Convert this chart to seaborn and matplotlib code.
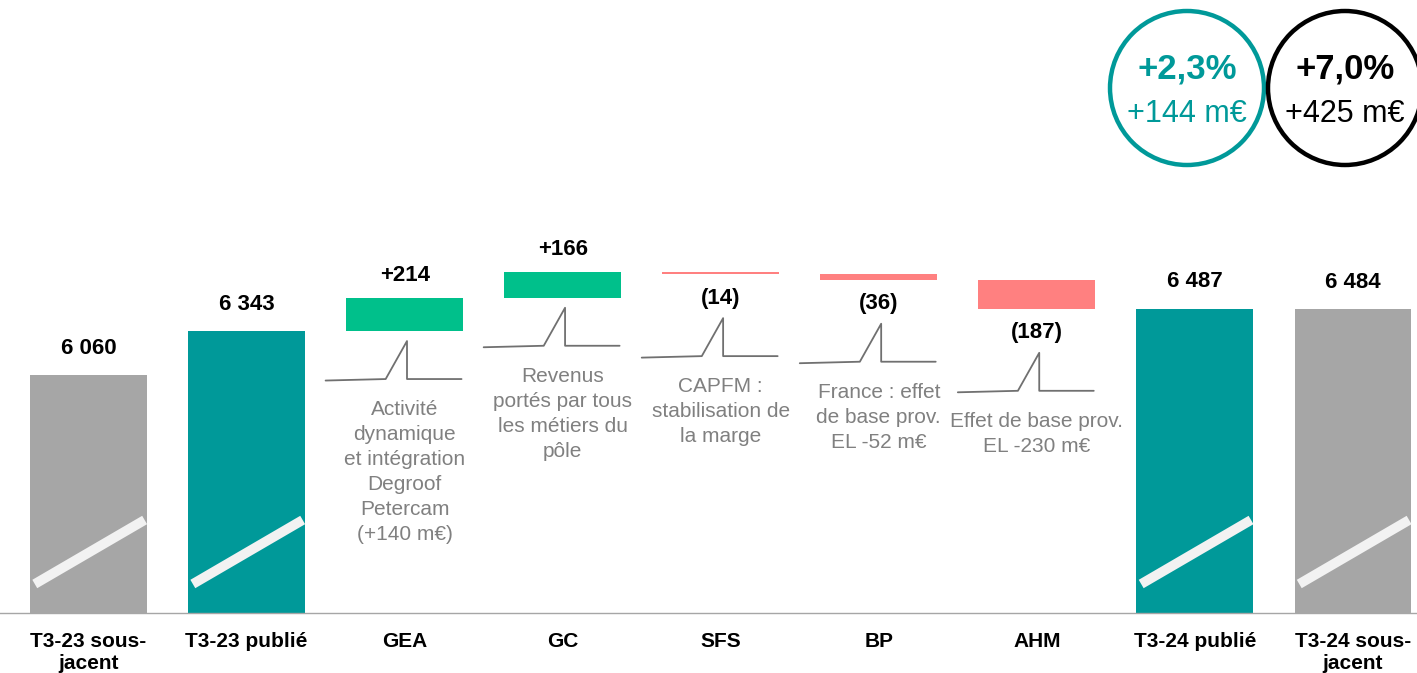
import matplotlib
matplotlib.use("Agg")
import matplotlib.pyplot as plt
import matplotlib.patches as mpatches
import numpy as np
import pandas as pd
import seaborn as sns

# données du graphique (m€)
categories = ["T3-23 sous-\njacent", "T3-23 publié", "GEA", "GC", "SFS", "BP", "AHM",
              "T3-24 publié", "T3-24 sous-\njacent"]
values = [6060, 6343, 214, 166, -14, -36, -187, 6487, 6484]
is_total = [True, True, False, False, False, False, False, True, True]
value_labels = ["6 060", "6 343", "+214", "+166", "(14)", "(36)", "(187)", "6 487", "6 484"]
descriptions = ["", "",
                "Activité\ndynamique\net intégration\nDegroof\nPetercam\n(+140 m€)",
                "Revenus\nportés par tous\nles métiers du\npôle",
                "CAPFM :\nstabilisation de\nla marge",
                "France : effet\nde base prov.\nEL -52 m€",
                "Effet de base prov.\nEL -230 m€",
                "", ""]
circle_pct = ["+2,3%", "+7,0%"]
circle_abs = ["+144 m€", "+425 m€"]

GRAY = "#a6a6a6"
TEAL = "#009999"
GREEN = "#00c08b"
RED = "#ff8080"

# %%
# bas et hauteur de chaque barre (cascade)
bottoms, heights, colors = [], [], []
running = 0
for i, (v, t) in enumerate(zip(values, is_total)):
    if t:
        bottoms.append(0)
        heights.append(v)
        running = v
        colors.append(GRAY if i in (0, len(values) - 1) else TEAL)
    else:
        bottoms.append(running if v >= 0 else running + v)
        heights.append(abs(v))
        running += v
        colors.append(GREEN if v >= 0 else RED)

df = pd.DataFrame({"cat": categories, "height": heights, "bottom": bottoms})

sns.set_style("white")
plt.rcParams["font.family"] = ["Liberation Sans", "DejaVu Sans"]

W, H = 1417, 673
fig = plt.figure(figsize=(W / 100, H / 100), dpi=100)
base_px = 613
ax = fig.add_axes([0, (H - base_px) / H, 1, base_px / H])

sns.barplot(data=df, x="cat", y="height", hue="cat", palette=colors, width=0.74,
            saturation=1, legend=False, ax=ax, linewidth=0)
for patch, b in zip(ax.patches, bottoms):
    patch.set_y(b)

ymin = 4530
ypp = 6.43  # m€ par pixel

# axe
for s in ["left", "top", "right"]:
    ax.spines[s].set_visible(False)
ax.spines["bottom"].set_color(GRAY)
ax.spines["bottom"].set_linewidth(1)
ax.set_yticks([])
ax.set_ylabel("")
ax.set_xlabel("")
ax.set_xticks(range(len(categories)))
ax.set_xticklabels(categories, fontweight="bold", fontsize=15, linespacing=1.15,
                   color="black")
ax.tick_params(axis="x", which="major", length=0, pad=14)
ax.set_xticks(np.arange(-0.5, len(categories), 1), minor=True)
ax.tick_params(axis="x", which="minor", length=5, color=GRAY, width=1)
ax.set_ylim(ymin, ymin + base_px * ypp)
ax.set_xlim(-0.56, 8.405)

# étiquettes de valeurs
for i, (lab, v, b, h, t) in enumerate(zip(value_labels, values, bottoms, heights, is_total)):
    if t or v >= 0:
        y = b + h + (27 if t else 22) * ypp
    else:
        y = b - 24 * ypp
    ax.text(i, y, lab, ha="center", va="center", fontweight="bold", fontsize=16, color="black")

# marques de coupure sur les barres de total
for i, t in enumerate(is_total):
    if t:
        ax.plot([i - 0.34, i + 0.355], [ymin + 29 * ypp, ymin + 93 * ypp],
                color="#f2f2f2", lw=7, solid_capstyle="butt", zorder=5)

# renvois et commentaires
for i, (desc, v, b) in enumerate(zip(descriptions, values, bottoms)):
    if not desc:
        continue
    peak = b - (10 if v >= 0 else 44) * ypp
    base = peak - 38 * ypp
    xs = [i - 0.5, i - 0.12, i + 0.015, i + 0.015, i + 0.36]
    ys = [base - 1.5 * ypp, base, peak, base, base]
    ax.plot(xs, ys, color="#707070", lw=1.3, zorder=3)
    ax.text(i, base - 21 * ypp, desc, ha="center", va="top", fontsize=15,
            color="#808080", linespacing=1.4)

# cercles de variation
circles = [(1187, 88, TEAL), (1345, 88, "black")]
r = 77
for (cx, cy, col), pct, ab in zip(circles, circle_pct, circle_abs):
    fig.add_artist(mpatches.Ellipse((cx / W, 1 - cy / H), 2 * r / W, 2 * r / H,
                                    transform=fig.transFigure, fill=False,
                                    edgecolor=col, lw=3.2, clip_on=False))
    fig.text(cx / W, 1 - 69 / H, pct, ha="center", va="center", fontsize=25,
             fontweight="bold", color=col)
    fig.text(cx / W, 1 - 114 / H, ab, ha="center", va="center", fontsize=22,
             color=col)

fig.savefig("out.png", dpi=100)
